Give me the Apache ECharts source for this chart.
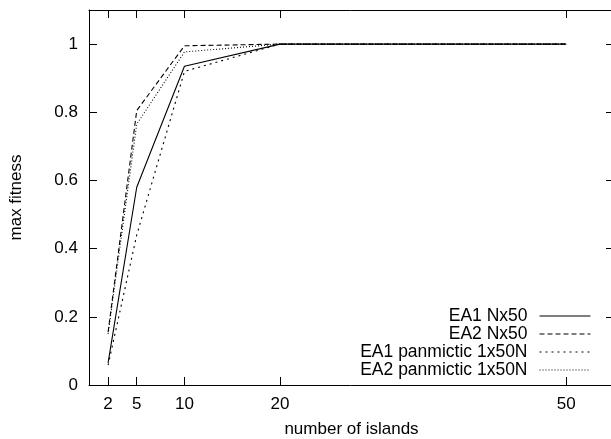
<!DOCTYPE html>
<html>
<head>
<meta charset="utf-8">
<script src="https://cdn.jsdelivr.net/npm/echarts@6/dist/echarts.min.js"></script>
<style>
  html, body { margin: 0; padding: 0; background: #fff; }
  #main { width: 611px; height: 439px; }
</style>
</head>
<body>
<div id="main"></div>
<script>
// data
var islands = [2, 5, 10, 20, 50];
var ea1Nx50 = [0.065, 0.58, 0.935, 1.0, 1.0];
var ea2Nx50 = [0.155, 0.805, 0.995, 1.0, 1.0];
var ea1Pan = [0.058, 0.44, 0.92, 1.0, 1.0];
var ea2Pan = [0.15, 0.765, 0.977, 1.0, 1.0];
var xTicks = [2, 5, 10, 20, 50];
var yTicks = [0, 0.2, 0.4, 0.6, 0.8, 1];

var names = ['EA1 Nx50', 'EA2 Nx50', 'EA1 panmictic 1x50N', 'EA2 panmictic 1x50N'];
var values = [ea1Nx50, ea2Nx50, ea1Pan, ea2Pan];
var dashes = ['solid', [5, 3], [2, 4], [1, 2]];

function pairs(ys)
{
    return islands.map(function (x, i) { return [x, ys[i]]; });
}

var font = 'Liberation Sans, Arial, sans-serif';

var myChart = echarts.init(document.getElementById('main'));

var series = names.map(function (n, i)
{
    return {
        name: n,
        type: 'line',
        data: pairs(values[i]),
        symbol: 'none',
        lineStyle: { color: '#000', width: 1.1, type: dashes[i] },
        itemStyle: { color: '#000' }
    };
});

// tick/axis style shared by main and mirrored axes
function xAxisOf(pos, labels)
{
    return {
        type: 'value',
        position: pos,
        min: 0,
        max: 55,
        name: labels ? 'number of islands' : '',
        nameLocation: 'middle',
        nameGap: 36,
        nameTextStyle: { color: '#000', fontFamily: font, fontSize: 17 },
        axisLine: { show: true, onZero: false, lineStyle: { color: '#000', width: 1 } },
        axisTick: { show: true, inside: true, length: 8, customValues: xTicks,
                    lineStyle: { color: '#000', width: 1 } },
        axisLabel: { show: labels, customValues: xTicks, margin: 11,
                     color: '#000', fontFamily: font, fontSize: 17 },
        splitLine: { show: false }
    };
}

function yAxisOf(pos, labels)
{
    return {
        type: 'value',
        position: pos,
        min: 0,
        max: 1.1,
        interval: 0.2,
        name: labels ? 'max fitness' : '',
        nameLocation: 'middle',
        nameGap: 64,
        nameTextStyle: { color: '#000', fontFamily: font, fontSize: 17 },
        axisLine: { show: true, onZero: false, lineStyle: { color: '#000', width: 1 } },
        axisTick: { show: true, inside: true, length: 8, customValues: yTicks,
                    lineStyle: { color: '#000', width: 1 } },
        axisLabel: { show: labels, customValues: yTicks, margin: 11,
                     color: '#000', fontFamily: font, fontSize: 17 },
        splitLine: { show: false }
    };
}

myChart.setOption({
    animation: false,
    backgroundColor: '#fff',
    grid: { left: 89, right: -3, top: 10, bottom: 54, outerBoundsMode: 'none', containLabel: false },
    legend: {
        data: names,
        orient: 'vertical',
        align: 'right',
        right: 20,
        top: 307,
        padding: 0,
        itemWidth: 51,
        itemHeight: 14,
        itemGap: 0,
        itemStyle: { opacity: 0 },
        lineStyle: { width: 1 },
        textStyle: { color: '#000', fontFamily: font, fontSize: 17.5, lineHeight: 18,
                     padding: [0, 7, 0, 0] }
    },
    xAxis: [xAxisOf('bottom', true), xAxisOf('top', false)],
    yAxis: [yAxisOf('left', true), yAxisOf('right', false)],
    series: series
});
</script>
</body>
</html>
